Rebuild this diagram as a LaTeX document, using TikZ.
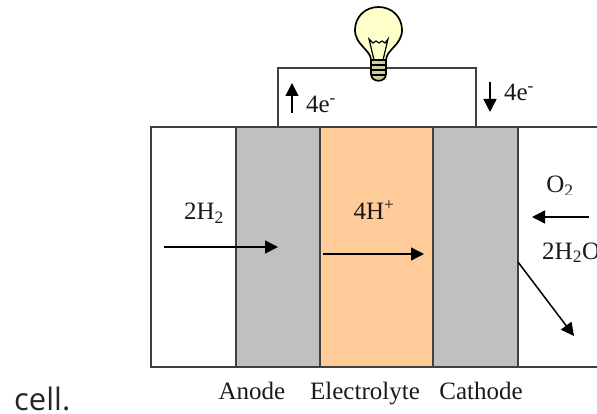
\documentclass[tikz,border=0pt]{standalone}
\usepackage{fontspec}
\setmainfont{Liberation Serif}
\newfontfamily\captionfont{Open Sans}
\usetikzlibrary{arrows.meta}
\definecolor{platecolor}{RGB}{192,192,192}
\definecolor{electrolytecolor}{RGB}{255,204,153}
\definecolor{bulbcolor}{RGB}{255,255,204}
\definecolor{capcolor}{RGB}{204,204,153}
\newcommand{\lines}{1.6pt}
\tikzset{
    cellbox/.style = {draw=black!75, line width=\lines, inner sep=0pt, outer sep=0pt, anchor=north west},
    wire/.style = {draw=black!75, line width=\lines},
    flow/.style = {draw=black, line width=1.5pt, -{Triangle[length=13pt,width=13pt]}},
    label/.style = {font=\fontsize{25}{25}\selectfont, inner sep=0pt, anchor=base, text=black!90},
}
\begin{document}
\begin{tikzpicture}[x=1pt,y=-1pt]
    \useasboundingbox (0,0) rectangle (597,414);
    \begin{scope}
        \clip (0,0) rectangle (597,414);
        % outer cell and the three layers
        \node[cellbox, minimum width=85pt, minimum height=240pt] (gasin) at (151,127) {};
        \node[cellbox, fill=platecolor, minimum width=84pt, minimum height=240pt] (anode) at (236,127) {};
        \node[cellbox, fill=electrolytecolor, minimum width=113pt, minimum height=240pt] (electrolyte) at (320,127) {};
        \node[cellbox, fill=platecolor, minimum width=85pt, minimum height=240pt] (cathode) at (433,127) {};
        \coordinate (topend) at (600,127);
        \coordinate (botend) at (600,367);
        \draw[wire] (cathode.north east) -- (topend);
        \draw[wire] (cathode.south east) -- (botend);

        % external circuit
        \coordinate (wireA) at (278,127);
        \coordinate (wireB) at (278,68);
        \coordinate (wireC) at (476,68);
        \coordinate (wireD) at (476,127);
        \draw[wire] (wireA) -- (wireB) -- (wireC) -- (wireD);

        % bulb
        \draw[line width=1.7pt, fill=bulbcolor] (371,60) .. controls (371,50) and (355,45) .. (355,30)
            .. controls (355,17) and (365,7) .. (378.5,7)
            .. controls (392,7) and (402,17) .. (402,30)
            .. controls (402,45) and (386,50) .. (386,60) -- cycle;
        \draw[line width=1.2pt] (374,60) -- (369,39) -- (373,43) -- (376,41) -- (379,43) -- (382,41) -- (385,43) -- (388,39) -- (383,60);
        \draw[line width=1.7pt, fill=capcolor] (371,60) -- (386,60) -- (386,74)
            .. controls (386,83) and (371,83) .. (371,74) -- cycle;
        \draw[line width=1.2pt] (371,65) -- (386,65);
        \draw[line width=1.2pt] (371,70) -- (386,70);
        \draw[line width=1.2pt] (371,75) -- (386,75);

        % electron arrows
        \coordinate (eupS) at (292,113);
        \coordinate (eupE) at (292,83);
        \coordinate (edownS) at (490,82);
        \coordinate (edownE) at (490,112);
        \draw[flow] (eupS) -- (eupE);
        \draw[flow] (edownS) -- (edownE);

        % species arrows
        \coordinate (hydS) at (164,247);
        \coordinate (hydE) at (278,247);
        \coordinate (ionS) at (323,254);
        \coordinate (ionE) at (424,254);
        \coordinate (oxyS) at (589,217);
        \coordinate (oxyE) at (532,217);
        \coordinate (watS) at (518,262);
        \coordinate (watE) at (574,336);
        \draw[flow] (hydS) -- (hydE);
        \draw[flow] (ionS) -- (ionE);
        \draw[flow] (oxyS) -- (oxyE);
        \draw[flow] (watS) -- (watE);

        % labels
        \node[label] (eupL) at (321,113) {4e\textsuperscript{-}};
        \node[label] (edownL) at (519,101) {4e\textsuperscript{-}};
        \node[label] (hydL) at (204,220) {2H\textsubscript{2}};
        \node[label] (ionL) at (374,220) {4H\textsuperscript{+}};
        \begin{scope}
            \clip (540,165) rectangle (597,195);
            \node[label] (oxyL) at (560,193) {O\textsubscript{2}};
        \end{scope}
        \node[label, anchor=base west] (watL) at (542,259) {2H\textsubscript{2}O};
        \node[label] (anodeL) at (252,399) {Anode};
        \node[label] (electrolyteL) at (365,399) {Electrolyte};
        \node[label] (cathodeL) at (481,399) {Cathode};
        \node[font=\captionfont\fontsize{31}{31}\selectfont, inner sep=0pt, anchor=base west, text=black!85] (captionL) at (14,410) {cell.};
    \end{scope}
\end{tikzpicture}
\end{document}
